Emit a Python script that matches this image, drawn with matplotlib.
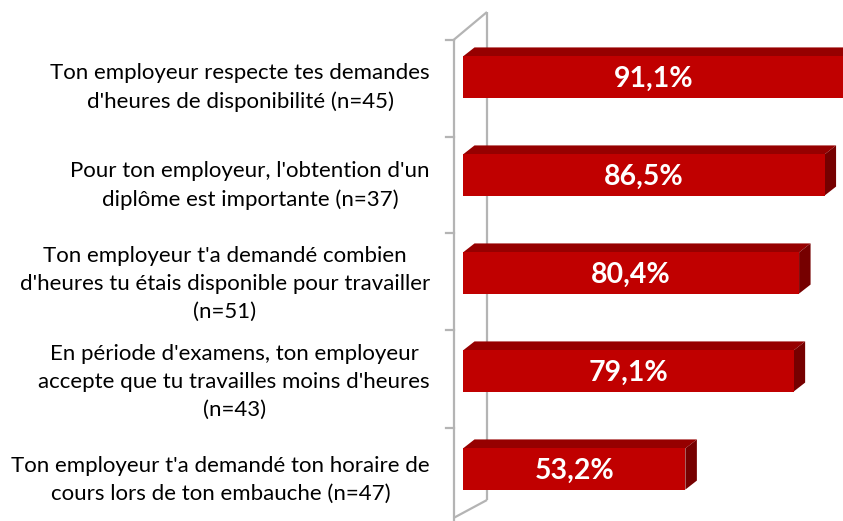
import matplotlib
matplotlib.use('Agg')
import matplotlib.pyplot as plt
from matplotlib.patches import Polygon
from matplotlib.transforms import blended_transform_factory

# Données
categories = [
    "Ton employeur respecte tes demandes\nd'heures de disponibilité (n=45)",
    "Pour ton employeur, l'obtention d'un\ndiplôme est importante (n=37)",
    "Ton employeur t'a demandé combien\nd'heures tu étais disponible pour travailler\n(n=51)",
    "En période d'examens, ton employeur\naccepte que tu travailles moins d'heures\n(n=43)",
    "Ton employeur t'a demandé ton horaire de\ncours lors de ton embauche (n=47)",
]
values = [91.1, 86.5, 80.4, 79.1, 53.2]
value_labels = ['91,1%', '86,5%', '80,4%', '79,1%', '53,2%']

W, H = 843, 521
PX_PER_PCT = 4.18      # pixels par point de pourcentage
X0 = 463               # position pixel du zéro
Y0, STEP = 77, 98      # centre de la première barre, pas entre barres
BAR_H = 0.42
DX = 11.5 / PX_PER_PCT   # profondeur 3D
DY = 9 / STEP

FRONT = '#C00000'
TOP = '#960000'
SIDE = '#760000'
WALL = '#b4b4b4'

plt.rcParams['font.family'] = ['Lato', 'DejaVu Sans']

fig = plt.figure(figsize=(W / 100, H / 100), dpi=100)
ax = fig.add_axes([0, 0, 1, 1])
ax.set_xlim(-X0 / PX_PER_PCT, (W - X0) / PX_PER_PCT)
ax.set_ylim((H - Y0) / STEP, -Y0 / STEP)
ax.axis('off')


def px(x, y):
    """Pixel -> fraction des axes."""
    return x / W, 1 - y / H


# Paroi (mur 3D) derrière les barres
wall_lines = [
    [(453.5, 40), (453.5, 525)],
    [(487, 12), (487, 500)],
    [(453.5, 40), (487, 12)],
    [(453.5, 518), (487, 500)],
]
for seg in wall_lines:
    (x1, y1), (x2, y2) = px(*seg[0]), px(*seg[1])
    ax.plot([x1, x2], [y1, y2], transform=ax.transAxes, color=WALL,
            lw=1.6, zorder=1, solid_capstyle='butt')
for ty in [40, 137, 233, 330, 428]:
    (x1, y1), (x2, y2) = px(446, ty), px(453.5, ty)
    ax.plot([x1, x2], [y1, y2], transform=ax.transAxes, color=WALL,
            lw=1.6, zorder=1)

# Barres 3D
ypos = list(range(len(values)))
ax.barh(ypos, values, height=BAR_H, color=FRONT, zorder=3)
for i, v in zip(ypos, values):
    top = i - BAR_H / 2
    bot = i + BAR_H / 2
    ax.add_patch(Polygon([(0, top), (v, top), (v + DX, top - DY), (DX, top - DY)],
                         closed=True, facecolor=TOP, edgecolor='none', zorder=2.5))
    ax.add_patch(Polygon([(v, top), (v + DX, top - DY), (v + DX, bot - DY), (v, bot)],
                         closed=True, facecolor=SIDE, edgecolor='none', zorder=2.5))

# Étiquettes de valeurs
for i, v, lab in zip(ypos, values, value_labels):
    ax.text(v / 2, i + 0.02, lab, ha='center', va='center', color='white',
            fontsize=20.5, fontweight='bold', zorder=4)

# Étiquettes de catégories
trans = blended_transform_factory(ax.transAxes, ax.transData)
for i, cat in zip(ypos, categories):
    ax.text(430 / W, i + 0.11, cat, transform=trans, ha='right', va='center',
            multialignment='center', fontsize=16, color='black',
            linespacing=1.5)

fig.savefig('out.png', dpi=100)
plt.close(fig)
